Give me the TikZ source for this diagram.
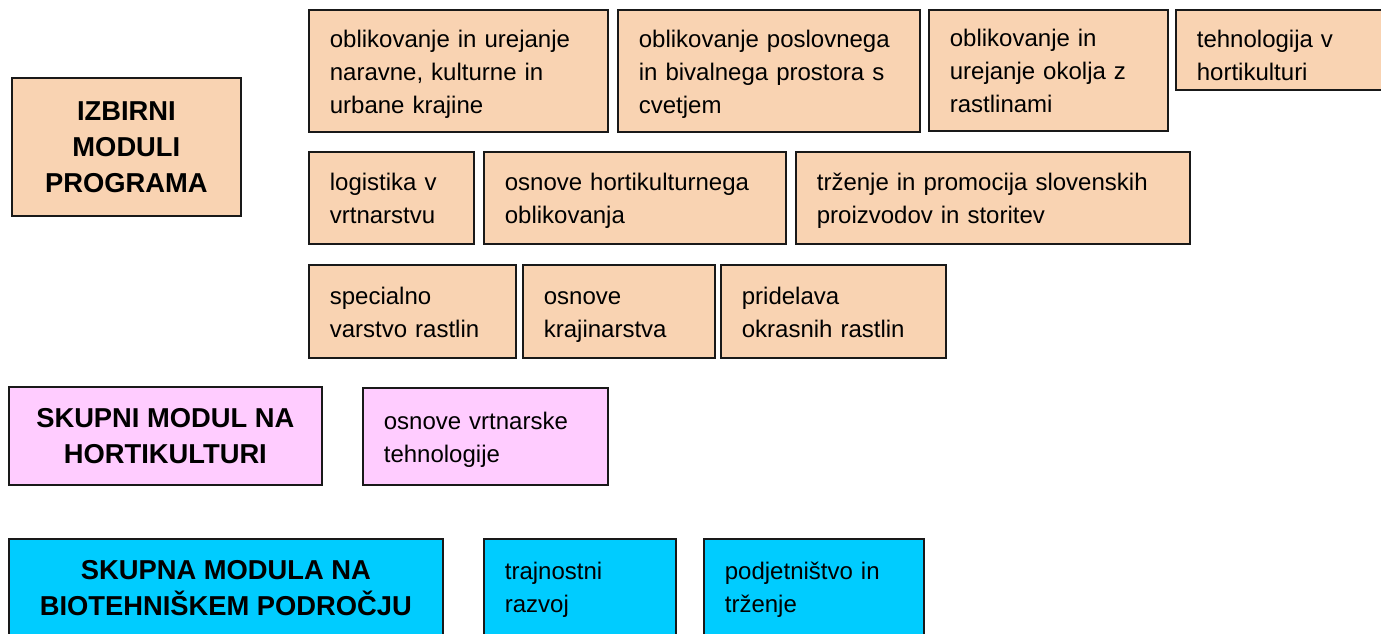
\documentclass[tikz,border=0pt]{standalone}
\usepackage{fontspec}
\setmainfont{Liberation Sans}
\definecolor{breskev}{HTML}{F9D3B2}
\definecolor{roza}{HTML}{FFCCFF}
\definecolor{modra}{HTML}{00CCFF}
\begin{document}
\begin{tikzpicture}[x=0.75pt, y=-0.75pt,
    okvir/.style={draw=black!90, line width=1.3pt, anchor=north west, inner ysep=0pt},
    modul/.style 2 args={okvir, minimum width=#1*0.75pt, minimum height=#2*0.75pt,
        text width=(#1-42)*0.75pt, inner xsep=15.75pt, align=left,
        font=\fontsize{18}{24.75}\selectfont,
        execute at begin node=\rule{0pt}{21.8pt}, execute at end node=\strut},
    naslov/.style 2 args={okvir, minimum width=#1*0.75pt, minimum height=#2*0.75pt,
        align=center, font=\bfseries\fontsize{20.5}{27}\selectfont}]
    \useasboundingbox (0,0) rectangle (1381,634);
    \clip (0,0) rectangle (1381,634);

    % Izbirni moduli
    \node[naslov={229}{138}, fill=breskev] (izbirni) at (11,77) {IZBIRNI\\MODULI\\PROGRAMA};

    \node[modul={299}{122}, fill=breskev] (krajina) at (308,9) {oblikovanje in urejanje\\naravne, kulturne in\\urbane krajine};
    \node[modul={302}{122}, fill=breskev] (prostor) at (617,9) {oblikovanje poslovnega\\in bivalnega prostora s\\cvetjem};
    \node[modul={239}{121}, fill=breskev] (okolje) at (928,9) {oblikovanje in\\urejanje okolja z\\rastlinami};
    \node[modul={212}{80}, fill=breskev, execute at begin node=\rule{0pt}{28pt}] (tehnologija) at (1175,9) {tehnologija v\\hortikulturi};

    \node[modul={165}{92}, fill=breskev] (logistika) at (308,151) {logistika v\\vrtnarstvu};
    \node[modul={302}{92}, fill=breskev] (oblikovanje) at (483,151) {osnove hortikulturnega\\oblikovanja};
    \node[modul={394}{92}, fill=breskev] (trzenje) at (795,151) {trženje in promocija slovenskih\\proizvodov in storitev};

    \node[modul={207}{93}, fill=breskev] (varstvo) at (308,264) {specialno\\varstvo rastlin};
    \node[modul={192}{93}, fill=breskev] (krajinarstvo) at (522,264) {osnove\\krajinarstva};
    \node[modul={225}{93}, fill=breskev] (pridelava) at (720,264) {pridelava\\okrasnih rastlin};

    % Skupni modul na hortikulturi
    \node[naslov={313}{98}, fill=roza] (skupni) at (8,386) {SKUPNI MODUL NA\\HORTIKULTURI};
    \node[modul={245}{97}, fill=roza] (vrtnarska) at (362,387) {osnove vrtnarske\\tehnologije};

    % Skupna modula na biotehniskem podrocju
    \node[naslov={434}{98}, fill=modra] (skupna) at (8,538) {SKUPNA MODULA NA\\BIOTEHNIŠKEM PODROČJU};
    \node[modul={192}{96}, fill=modra] (razvoj) at (483,538) {trajnostni\\razvoj};
    \node[modul={220}{96}, fill=modra] (podjetnistvo) at (703,538) {podjetništvo in\\trženje};

\end{tikzpicture}
\end{document}
